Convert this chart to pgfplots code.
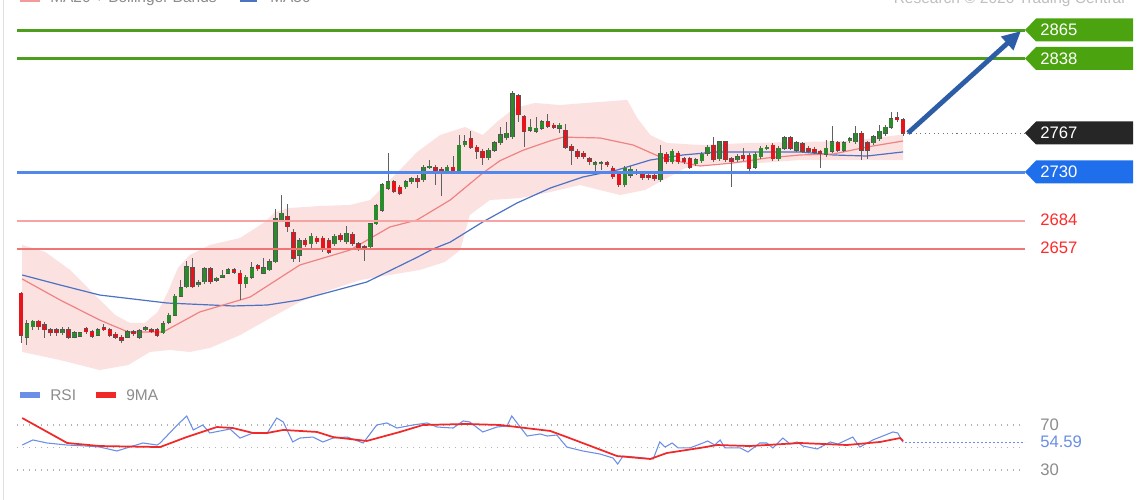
\documentclass[border=0pt]{standalone}
\usepackage{fontspec}
\setmainfont{Liberation Sans}
\usepackage{pgfplots}
\pgfplotsset{compat=1.18}
\usepackage{pgfplotstable}
\usetikzlibrary{arrows.meta}

\definecolor{lvlgreen}{HTML}{4C9E1C}
\definecolor{boxgreen}{HTML}{4AA30F}
\definecolor{lvlblue}{HTML}{5288EC}
\definecolor{boxblue}{HTML}{1F6FEC}
\definecolor{boxdark}{HTML}{262626}
\definecolor{lvlred1}{HTML}{F5A3A3}
\definecolor{lvlred2}{HTML}{F07575}
\definecolor{labred}{HTML}{FF2A2A}
\definecolor{bbpink}{HTML}{FCE1E1}
\definecolor{ma20c}{HTML}{F08282}
\definecolor{ma50c}{HTML}{4D72C4}
\definecolor{cgreen}{HTML}{2B8C2B}
\definecolor{cred}{HTML}{E8141C}
\definecolor{cedge}{HTML}{555555}
\definecolor{wickc}{HTML}{606060}
\definecolor{rsic}{HTML}{6B8FE6}
\definecolor{mac}{HTML}{F02828}
\definecolor{txtgray}{HTML}{8C8C8C}
\definecolor{arrowc}{HTML}{2D5DA6}

% candles: index, open, high, low, close
\pgfplotstableread{
i O H L C
0 2615 2616 2567 2575
1 2573 2589 2566 2586
2 2583 2589 2580 2588
3 2588 2589 2580 2583
4 2585 2587 2572 2580
5 2580 2582 2574 2577
6 2580 2582 2574 2577
7 2577 2583 2575 2580
8 2580 2583 2571 2573
9 2573 2579 2572 2577
10 2574 2578 2573 2577
11 2581 2583 2576 2578
12 2578 2580 2572 2574
13 2575 2582 2574 2580
14 2582 2586 2579 2580
15 2580 2582 2573 2575
16 2576 2578 2571 2573
17 2573 2575 2567 2570
18 2573 2580 2572 2578
19 2578 2580 2574 2576
20 2573 2581 2571 2579
21 2580 2584 2579 2582
22 2580 2582 2577 2578
23 2580 2582 2573 2575
24 2577 2588 2576 2586
25 2587 2596 2586 2594
26 2594 2614 2593 2612
27 2612 2627 2611 2620
28 2621 2646 2620 2640
29 2639 2648 2620 2621
30 2623 2627 2621 2625
31 2626 2640 2624 2638
32 2638 2640 2624 2626
33 2627 2630 2626 2629
34 2630 2637 2629 2632
35 2634 2639 2633 2637
36 2637 2639 2633 2635
37 2634 2637 2608 2624
38 2624 2632 2620 2630
39 2630 2645 2628 2639
40 2641 2643 2636 2638
41 2634 2648 2633 2639
42 2637 2647 2636 2645
43 2645 2695 2644 2686
44 2685 2708 2684 2691
45 2688 2700 2673 2678
46 2673 2676 2645 2648
47 2651 2667 2645 2665
48 2665 2667 2659 2661
49 2662 2672 2656 2669
50 2667 2669 2662 2664
51 2667 2669 2654 2656
52 2665 2667 2652 2654
53 2662 2671 2660 2669
54 2670 2672 2664 2666
55 2664 2679 2662 2672
56 2671 2673 2660 2662
57 2662 2664 2655 2658
58 2659 2661 2646 2656
59 2659 2682 2657 2681
60 2681 2700 2680 2698
61 2694 2720 2692 2718
62 2715 2748 2713 2721
63 2721 2723 2710 2712
64 2716 2718 2708 2710
65 2716 2723 2714 2721
66 2721 2726 2719 2724
67 2724 2727 2715 2721
68 2723 2737 2721 2735
69 2735 2742 2733 2736
70 2735 2737 2718 2731
71 2733 2735 2707 2732
72 2731 2737 2729 2735
73 2735 2746 2729 2731
74 2731 2766 2729 2756
75 2756 2766 2754 2759
76 2762 2769 2752 2754
77 2754 2756 2743 2750
78 2750 2752 2737 2744
79 2744 2753 2742 2751
80 2751 2760 2749 2758
81 2758 2773 2756 2766
82 2763 2778 2761 2767
83 2764 2807 2762 2805
84 2803 2805 2778 2785
85 2783 2785 2754 2769
86 2770 2781 2768 2773
87 2769 2783 2767 2772
88 2772 2780 2770 2778
89 2778 2786 2772 2774
90 2775 2777 2771 2773
91 2772 2777 2767 2775
92 2770 2776 2752 2754
93 2755 2757 2737 2751
94 2750 2752 2743 2745
95 2748 2750 2743 2745
96 2743 2745 2737 2740
97 2737 2741 2727 2739
98 2738 2741 2732 2739
99 2739 2741 2735 2737
100 2734 2736 2724 2726
101 2729 2731 2716 2718
102 2718 2736 2716 2734
103 2727 2736 2725 2733
104 2729 2733 2727 2731
105 2729 2731 2723 2725
106 2727 2729 2723 2725
107 2727 2729 2722 2724
108 2723 2756 2721 2748
109 2747 2749 2738 2740
110 2740 2752 2738 2750
111 2748 2750 2738 2740
112 2743 2745 2738 2740
113 2743 2745 2733 2735
114 2738 2744 2736 2742
115 2741 2749 2739 2747
116 2748 2756 2746 2754
117 2756 2764 2740 2742
118 2743 2760 2741 2759
119 2759 2760 2740 2742
120 2743 2745 2716 2740
121 2742 2747 2740 2745
122 2746 2753 2741 2743
123 2746 2748 2729 2734
124 2735 2749 2733 2747
125 2745 2755 2743 2753
126 2753 2756 2751 2754
127 2756 2758 2741 2743
128 2743 2755 2741 2753
129 2753 2765 2751 2763
130 2763 2765 2751 2753
131 2751 2760 2749 2758
132 2757 2759 2748 2750
133 2753 2755 2748 2750
134 2752 2754 2747 2749
135 2750 2751 2734 2748
136 2747 2761 2745 2753
137 2750 2774 2748 2759
138 2758 2760 2749 2751
139 2751 2760 2749 2758
140 2760 2764 2758 2762
141 2759 2774 2757 2767
142 2767 2769 2742 2751
143 2758 2760 2743 2751
144 2758 2766 2756 2764
145 2762 2775 2760 2769
146 2767 2775 2765 2773
147 2773 2787 2771 2781
148 2782 2787 2778 2780
149 2780 2782 2765 2767
}\candles

% error bars without a visible mark: a bar of given colour and width
\pgfplotsset{
  cbar/.style n args={2}{only marks, mark=*, mark size=0pt,
    mark options={draw=none, fill=none},
    error bars/.cd, y dir=both, y explicit, error mark=none,
    error bar style={draw=#1, solid, line width=#2}},
}

\newcommand\lab{\fontsize{12.5}{14}\selectfont}
\newcommand\leg{\fontsize{11.6}{13}\selectfont}

\begin{document}
\begin{tikzpicture}[x=0.75pt,y=0.75pt]
\fill[white] (0,0) rectangle (1140,500);
\draw[color=black!12, line width=0.75pt] (3,0) -- (3,500);

% price panel
\begin{axis}[at={(12.75pt,91.5pt)}, anchor=south west, width=756pt, height=283.5pt,
  scale only axis, xmin=-0.676, xmax=169.6, ymin=2534.1, ymax=2894.1,
  hide axis]

% Bollinger band as one closed area: upper edge, then lower edge backwards
\addplot[fill=bbpink, draw=none] coordinates {(0.2,2660.8) (4.1,2654.1) (8.3,2637.0) (12.5,2613.1) (15.9,2594.1) (18.4,2586.5) (20.9,2586.5) (23.1,2597.0) (24.8,2616.0) (26.5,2638.9) (28.5,2651.2) (31.9,2660.8) (37.0,2667.4) (41.2,2682.7) (42.9,2692.2) (45.4,2696.0) (50.5,2697.9) (55.6,2698.9) (59.0,2703.6) (61.1,2716.0) (64.0,2732.2) (66.9,2749.3) (70.8,2765.5) (75.0,2773.1) (78.0,2765.5) (80.4,2777.9) (83.4,2791.2) (86.8,2796.0) (91.0,2794.1) (97.8,2797.0) (102.4,2798.9) (104.1,2781.7) (106.3,2765.5) (109.1,2757.9) (114.7,2756.0) (123.1,2757.9) (131.6,2758.9) (140.0,2759.8) (149.0,2766.0)
 (149.0,2741.7) (140.0,2741.7) (131.6,2741.7) (124.8,2738.9) (118.1,2738.9) (112.2,2734.1) (107.9,2720.8) (105.4,2713.1) (101.2,2708.4) (97.8,2713.1) (94.4,2717.9) (89.4,2711.2) (84.3,2705.5) (79.2,2703.6) (75.8,2689.3) (74.2,2656.0) (71.6,2644.6) (67.4,2637.0) (62.3,2632.2) (57.3,2627.4) (52.2,2617.9) (47.1,2606.5) (42.1,2591.2) (37.0,2575.0) (31.9,2562.7) (28.5,2558.9) (25.2,2560.8) (21.8,2558.9) (18.1,2546.5) (13.3,2541.7) (6.6,2551.2) (0.2,2558.9)};

% MA50 and MA20
\addplot[ma50c, line width=0.9pt] coordinates {(0.2,2632.2) (6.6,2622.7) (13.3,2613.1) (24.7,2605.5) (35.8,2602.7) (41.6,2603.6) (47.1,2608.4) (58.4,2625.5) (66.9,2649.0) (69.6,2657.0) (72.5,2663.5) (78.0,2682.7) (83.8,2700.8) (89.4,2715.0) (94.9,2725.5) (100.7,2732.2) (106.3,2741.7) (111.8,2746.5) (117.6,2749.4) (123.1,2749.4) (131.6,2749.4) (137.2,2746.5) (142.9,2745.5) (149.0,2749.4)};
\addplot[ma20c, line width=0.9pt] coordinates {(0.2,2628.4) (6.6,2608.4) (13.3,2589.3) (18.1,2577.9) (24.0,2577.9) (30.2,2597.0) (38.7,2611.2) (47.1,2641.7) (55.6,2656.0) (62.3,2677.9) (66.9,2684.6) (72.5,2703.6) (78.0,2729.3) (80.9,2741.0) (84.8,2751.0) (89.4,2760.0) (91.6,2763.5) (97.8,2762.7) (103.4,2756.0) (108.4,2743.6) (114.7,2736.0) (120.3,2738.9) (126.0,2743.6) (131.6,2746.5) (137.2,2747.4) (142.9,2754.1) (149.0,2759.8)};

% candles: wicks, then body edge and body fill (zero-length bar for the other colour)
\addplot[cbar={wickc}{0.75pt}] table[x=i, y expr={(\thisrow{H}+\thisrow{L})/2}, y error expr={(\thisrow{H}-\thisrow{L})/2}] {\candles};
\addplot[cbar={cedge}{3.4pt}] table[x=i, y expr={(\thisrow{O}+\thisrow{C})/2}, y error expr={abs(\thisrow{C}-\thisrow{O})/2+0.45}] {\candles};
\addplot[cbar={cgreen}{2.7pt}] table[x=i, y expr={(\thisrow{O}+\thisrow{C})/2}, y error expr={(\thisrow{C}>\thisrow{O})*abs(\thisrow{C}-\thisrow{O})/2}] {\candles};
\addplot[cbar={cred}{2.7pt}] table[x=i, y expr={(\thisrow{O}+\thisrow{C})/2}, y error expr={(\thisrow{C}<\thisrow{O})*abs(\thisrow{C}-\thisrow{O})/2}] {\candles};

% levels
\addplot[lvlgreen, line width=2.2pt] coordinates {(-0.676,2865) (169.6,2865)};
\addplot[lvlgreen, line width=2.2pt] coordinates {(-0.676,2838) (169.6,2838)};
\addplot[lvlblue, line width=1.8pt] coordinates {(-0.676,2730) (169.6,2730)};
\addplot[lvlred1, line width=1.6pt] coordinates {(-0.676,2684) (169.6,2684)};
\addplot[lvlred2, line width=1.3pt] coordinates {(-0.676,2657) (169.6,2657)};
\addplot[black!55, line width=0.8pt, dash pattern=on 0.8pt off 2.6pt] coordinates {(149.6,2767) (169.6,2767)};
\end{axis}

% RSI panel
\begin{axis}[at={(12.75pt,11.25pt)}, anchor=south west, width=756pt, height=56.25pt,
  scale only axis, xmin=-0.676, xmax=169.6, ymin=16.667, ymax=83.333,
  hide axis]
\addplot[black!30, line width=0.8pt, dash pattern=on 0.8pt off 3.7pt] coordinates {(-0.676,70) (169.6,70)};
\addplot[black!30, line width=0.8pt, dash pattern=on 0.8pt off 3.7pt] coordinates {(-0.676,50) (169.6,50)};
\addplot[black!30, line width=0.8pt, dash pattern=on 0.8pt off 3.7pt] coordinates {(-0.676,30) (169.6,30)};
\addplot[rsic, line width=0.8pt, dash pattern=on 1.5pt off 1.5pt] coordinates {(149.3,54.59) (169.6,54.59)};
\addplot[rsic, line width=0.8pt] coordinates {(0.2,52.2) (2.0,56.7) (4.4,54.0) (7.8,52.2) (11.1,51.3) (13.3,50.4) (16.2,46.9) (18.9,51.3) (20.6,54.0) (23.0,52.2) (23.5,54.0) (26.4,70.0) (28.0,78.0) (29.1,65.6) (30.7,70.0) (31.9,62.9) (35.3,66.4) (37.0,58.4) (39.2,62.9) (41.6,62.9) (43.2,76.2) (44.3,72.7) (45.9,54.9) (47.1,58.4) (49.3,59.3) (51.0,54.9) (52.7,58.4) (55.1,59.3) (57.8,54.0) (60.1,70.0) (61.8,71.8) (63.5,67.3) (66.2,70.0) (68.6,71.8) (70.3,68.2) (73.0,67.3) (74.7,73.6) (75.8,72.7) (78.0,63.8) (80.4,68.2) (82.1,69.1) (82.9,78.0) (83.8,71.8) (85.5,60.2) (87.7,62.0) (88.9,60.2) (90.5,61.1) (92.2,50.4) (94.9,46.9) (97.8,44.2) (100.0,40.7) (100.8,35.3) (101.7,42.4) (103.4,41.6) (106.8,39.8) (107.9,54.9) (108.8,50.4) (110.0,54.0) (111.0,49.6) (113.0,49.6) (115.2,54.0) (116.0,55.8) (117.2,52.2) (118.1,56.7) (118.9,49.6) (121.5,49.6) (122.8,46.0) (124.8,54.0) (126.0,54.0) (127.0,49.6) (128.7,58.4) (129.9,53.1) (131.1,54.9) (132.1,51.3) (134.5,48.7) (136.7,54.9) (138.0,53.1) (140.5,59.3) (141.7,50.4) (143.9,56.7) (147.3,63.8) (148.1,62.9) (149.0,54.6)};
\addplot[mac, line width=1.3pt] coordinates {(0.2,76.2) (7.8,54.0) (13.3,51.3) (23.5,50.4) (28.0,59.3) (33.1,68.2) (35.8,67.3) (39.2,62.9) (41.6,62.9) (44.3,65.6) (50.0,63.8) (52.7,59.3) (58.4,55.8) (64.0,63.8) (67.9,70.0) (75.3,70.9) (80.9,70.0) (83.8,68.2) (89.4,64.7) (92.2,59.3) (100.7,42.4) (106.3,39.8) (109.1,45.1) (114.7,49.6) (117.6,52.2) (123.1,51.3) (131.6,54.0) (139.5,52.2) (145.1,54.9) (148.5,58.4) (149.0,55.8)};
\end{axis}

% arrow
\draw[draw=arrowc, line width=3.6pt, -{Triangle[length=14pt,width=13pt]}] (908,367) -- (1021,469);

% level boxes
\fill[boxgreen] (1025,470) -- (1036,481.5) -- (1133,481.5) -- (1133,458.5) -- (1036,458.5) -- cycle;
\fill[boxgreen] (1025,441.5) -- (1036,453) -- (1133,453) -- (1133,430) -- (1036,430) -- cycle;
\fill[boxdark] (1025,367) -- (1036,378.5) -- (1133,378.5) -- (1133,355.5) -- (1036,355.5) -- cycle;
\fill[boxblue] (1025,328) -- (1036,339.5) -- (1133,339.5) -- (1133,316.5) -- (1036,316.5) -- cycle;
\node[anchor=west, inner sep=0pt, text=white, font=\lab] at (1040,470) {2865};
\node[anchor=west, inner sep=0pt, text=white, font=\lab] at (1040,441.5) {2838};
\node[anchor=west, inner sep=0pt, text=white, font=\lab] at (1040,367) {2767};
\node[anchor=west, inner sep=0pt, text=white, font=\lab] at (1040,328) {2730};
\node[anchor=west, inner sep=0pt, text=labred, font=\lab] at (1040,280.5) {2684};
\node[anchor=west, inner sep=0pt, text=labred, font=\lab] at (1040,252) {2657};
\node[anchor=west, inner sep=0pt, text=txtgray, font=\lab] at (1040,75) {70};
\node[anchor=west, inner sep=0pt, text=rsic, font=\lab] at (1040,58) {54.59};
\node[anchor=west, inner sep=0pt, text=txtgray, font=\lab] at (1040,30) {30};

% legends (the top row is cut by the upper edge)
\begin{scope}
\clip (0,0) rectangle (1140,500);
\fill[ma20c!80] (20,498) rectangle (40,506);
\node[anchor=base west, inner sep=0pt, text=txtgray, font=\leg] at (50,497) {MA20 + Bollinger Bands};
\fill[ma50c] (240,498) rectangle (257,506);
\node[anchor=base west, inner sep=0pt, text=txtgray, font=\leg] at (270,497) {MA50};
\node[anchor=base east, inner sep=0pt, text=black!25, font=\leg] at (1125,496) {Research © 2020 Trading Central};
\end{scope}
\fill[rsic] (20,102) rectangle (40,108);
\node[anchor=base west, inner sep=0pt, text=txtgray, font=\leg] at (50,99.5) {RSI};
\fill[mac] (96,102) rectangle (116,108);
\node[anchor=base west, inner sep=0pt, text=txtgray, font=\leg] at (126,99.5) {9MA};
\pgfresetboundingbox
\useasboundingbox (0,0) rectangle (1140,500);
\end{tikzpicture}
\end{document}
